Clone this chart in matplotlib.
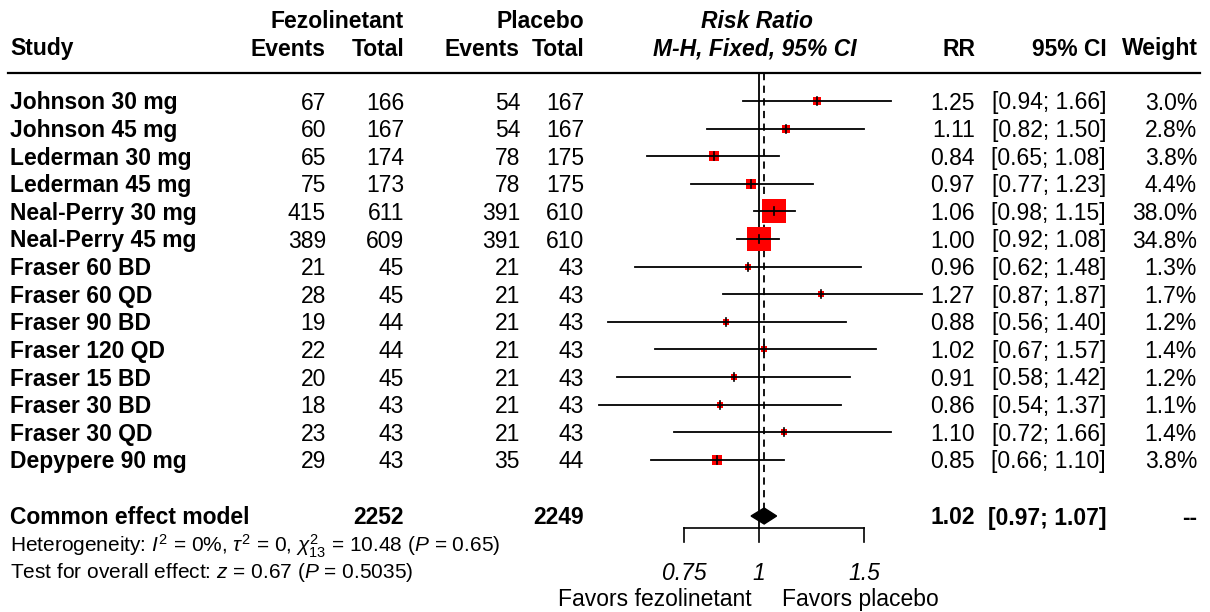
import numpy as np
import matplotlib
matplotlib.use('Agg')
import matplotlib.pyplot as plt

plt.rcParams['font.family'] = ['Liberation Sans', 'DejaVu Sans']
plt.rcParams['mathtext.fontset'] = 'custom'
plt.rcParams['mathtext.rm'] = 'Liberation Sans'
plt.rcParams['mathtext.it'] = 'Liberation Sans:italic'
plt.rcParams['mathtext.bf'] = 'Liberation Sans:bold'

# data
studies = ['Johnson 30 mg', 'Johnson 45 mg', 'Lederman 30 mg', 'Lederman 45 mg',
           'Neal-Perry 30 mg', 'Neal-Perry 45 mg', 'Fraser 60 BD', 'Fraser 60 QD',
           'Fraser 90 BD', 'Fraser 120 QD', 'Fraser 15 BD', 'Fraser 30 BD',
           'Fraser 30 QD', 'Depypere 90 mg']
fez_events = [67, 60, 65, 75, 415, 389, 21, 28, 19, 22, 20, 18, 23, 29]
fez_total = [166, 167, 174, 173, 611, 609, 45, 45, 44, 44, 45, 43, 43, 43]
pla_events = [54, 54, 78, 78, 391, 391, 21, 21, 21, 21, 21, 21, 21, 35]
pla_total = [167, 167, 175, 175, 610, 610, 43, 43, 43, 43, 43, 43, 43, 44]
rr = [1.25, 1.11, 0.84, 0.97, 1.06, 1.00, 0.96, 1.27, 0.88, 1.02, 0.91, 0.86, 1.10, 0.85]
lo = [0.94, 0.82, 0.65, 0.77, 0.98, 0.92, 0.62, 0.87, 0.56, 0.67, 0.58, 0.54, 0.72, 0.66]
hi = [1.66, 1.50, 1.08, 1.23, 1.15, 1.08, 1.48, 1.87, 1.40, 1.57, 1.42, 1.37, 1.66, 1.10]
weight = [3.0, 2.8, 3.8, 4.4, 38.0, 34.8, 1.3, 1.7, 1.2, 1.4, 1.2, 1.1, 1.4, 3.8]

pooled_rr, pooled_lo, pooled_hi = 1.02, 0.97, 1.07
pooled_fez_total, pooled_pla_total = 2252, 2249
xticks = [0.75, 1, 1.5]
xtick_labels = ['0.75', '1', '1.5']

W, H = 1210, 612
fig = plt.figure(figsize=(W / 100, H / 100), dpi=100)
ax = fig.add_axes([0, 0, 1, 1])
ax.set_xlim(0, W)
ax.set_ylim(H, 0)
ax.axis('off')

fs = 16.5
row_y = 101 + 27.6 * np.arange(len(studies))
y_pool = 516
off = 8.5  # baseline below row centre


def txt(x, y, s, ha='right', **kw):
    ax.text(x, y + off, s, ha=ha, va='baseline', fontsize=kw.pop('fontsize', fs), **kw)


# header
txt(404, 20, 'Fezolinetant', fontweight='bold')
txt(584, 20, 'Placebo', fontweight='bold')
txt(757, 20, 'Risk Ratio', ha='center', fontweight='bold', style='italic')
txt(10, 47, 'Study', ha='left', fontweight='bold')
for x, s in [(326, 'Events'), (404, 'Total'), (520, 'Events'), (584, 'Total'),
             (975, 'RR'), (1107, '95% CI'), (1198, 'Weight')]:
    txt(x, 47, s, fontweight='bold')
txt(755, 47, 'M-H, Fixed, 95% CI', ha='center', fontweight='bold', style='italic')
ax.plot([8, 1200], [73, 73], color='black', lw=1.6)

# study rows
for i, y in enumerate(row_y):
    txt(10, y, studies[i], ha='left', fontweight='bold')
    txt(326, y, str(fez_events[i]))
    txt(404, y, str(fez_total[i]))
    txt(520, y, str(pla_events[i]))
    txt(584, y, str(pla_total[i]))
    txt(975, y, '%.2f' % rr[i])
    txt(1106, y, '[%.2f; %.2f]' % (lo[i], hi[i]))
    txt(1197, y, '%.1f%%' % weight[i])

# pooled row
txt(10, y_pool, 'Common effect model', ha='left', fontweight='bold')
txt(404, y_pool, str(pooled_fez_total), fontweight='bold')
txt(584, y_pool, str(pooled_pla_total), fontweight='bold')
txt(975, y_pool, '%.2f' % pooled_rr, fontweight='bold')
txt(1106, y_pool, '[%.2f; %.2f]' % (pooled_lo, pooled_hi), fontweight='bold')
txt(1197, y_pool, '--', fontweight='bold')

txt(10, 544, r'Heterogeneity: $I^2$ = 0%, $\tau^2$ = 0, $\chi^2_{13}$ = 10.48 ($P$ = 0.65)',
    ha='left', fontsize=15)
txt(10, 570, r'Test for overall effect: $z$ = 0.67 ($P$ = 0.5035)', ha='left', fontsize=15)

# forest panel, log scale, 1 at x=759 px, 260 px per log unit
fx0, fx1 = 560, 960
fa = fig.add_axes([fx0 / W, 0, (fx1 - fx0) / W, 1])
fa.set_xscale('log')
fa.set_xlim(np.exp((fx0 - 759) / 260), np.exp((fx1 - 759) / 260))
fa.set_ylim(H, 0)
fa.patch.set_alpha(0)
fa.axis('off')

y_axis = 528
fa.plot([1, 1], [73, y_axis], color='black', lw=1.3)
fa.plot([pooled_rr, pooled_rr], [73, y_pool - 8], color='black', lw=1.3, ls=(0, (4, 3)))

for i, y in enumerate(row_y):
    side_px = 5.2 * weight[i] ** 0.43
    fa.scatter([rr[i]], [y], marker='s', s=(side_px * 0.72) ** 2, color='#ff0000',
               linewidths=0, zorder=2)
    fa.plot([lo[i], hi[i]], [y, y], color='black', lw=1.3, zorder=3)
    fa.plot([rr[i], rr[i]], [y - 4, y + 4], color='black', lw=1.2, zorder=3)

fa.fill([pooled_lo, pooled_rr, pooled_hi, pooled_rr],
        [y_pool, y_pool - 8, y_pool, y_pool + 8], color='black', zorder=3)

fa.plot([xticks[0], xticks[-1]], [y_axis, y_axis], color='black', lw=1.2)
for t, lab in zip(xticks, xtick_labels):
    fa.plot([t, t], [y_axis, y_axis + 14], color='black', lw=1.2)
    fa.text(t, 580, lab, ha='center', va='baseline', fontsize=fs, style='italic')

fa.text(np.exp((655 - 759) / 260), 606, 'Favors fezolinetant', ha='center', va='baseline', fontsize=fs)
fa.text(np.exp((860 - 759) / 260), 606, 'Favors placebo', ha='center', va='baseline', fontsize=fs)

fig.savefig('out.png', dpi=100)
